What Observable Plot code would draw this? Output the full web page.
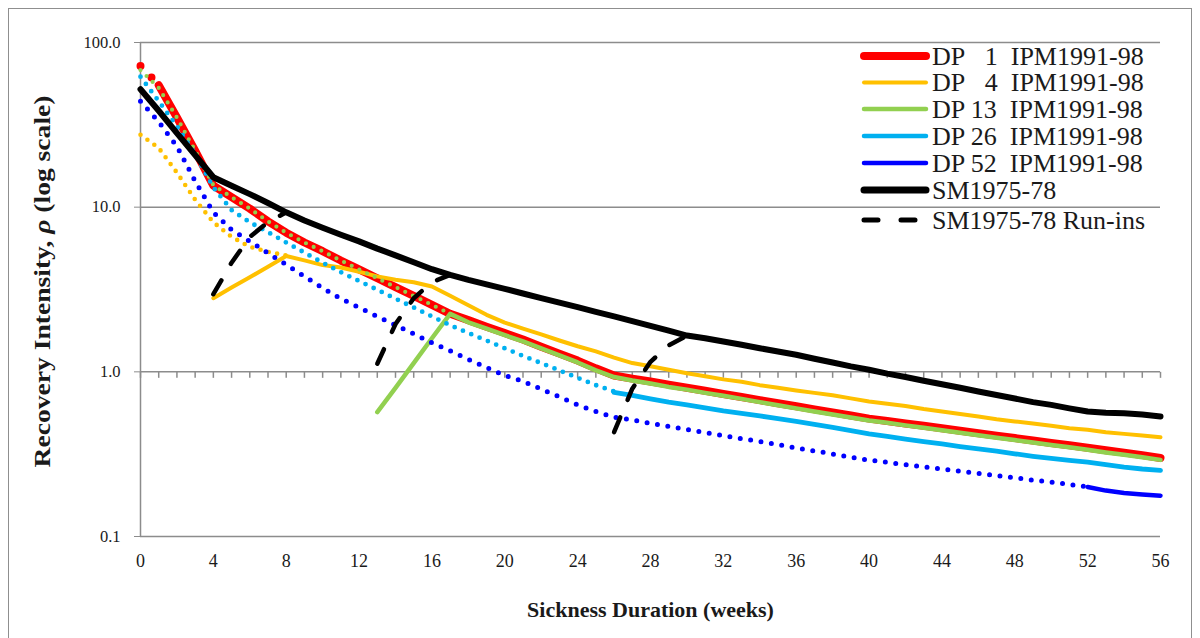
<!DOCTYPE html>
<html><head><meta charset="utf-8">
<script src="https://cdn.jsdelivr.net/npm/d3@7"></script>
<script src="https://cdn.jsdelivr.net/npm/@observablehq/plot@0.6"></script>
<style>
body{margin:0;background:#fff;}
#wrap{position:relative;width:1200px;height:638px;overflow:hidden;background:#fff;}
#frame{position:absolute;left:8px;top:8px;width:1184px;height:700px;border:1px solid #8f8f8f;box-sizing:border-box;pointer-events:none;}
#chart{position:absolute;left:0;top:0;}
#chart svg text{font-family:"Liberation Serif","Times New Roman",serif;}
</style></head><body><div id="wrap"><div id="chart"></div><div id="frame"></div></div>
<script>
// ---------- data ----------
const xTicks = [0,4,8,12,16,20,24,28,32,36,40,44,48,52,56];
const yTicks = [0.1,1,10,100];
const minorWeeks = d3.range(0,57);
const xTitle = "Sickness Duration (weeks)";
const yTitle = "Recovery Intensity, ρ (log scale)";

const legendLabels = ["DP\u00a0\u00a0\u00a01\u00a0\u00a0IPM1991-98","DP\u00a0\u00a0\u00a04\u00a0\u00a0IPM1991-98","DP 13\u00a0\u00a0IPM1991-98","DP 26\u00a0\u00a0IPM1991-98","DP 52\u00a0\u00a0IPM1991-98","SM1975-78","SM1975-78 Run-ins"];
const legendColors = ["#FF0000","#FFC000","#92D050","#00B0F0","#0000FF","#000000","#000000"];

// DP 1
const dp1DotWeeks = [0,1];
const dp1DotVals = [72,55];
const dp1Weeks = d3.range(1,57);
const dp1Vals = [55,35,22,13.5,11.5,9.8,8.2,7.0,6.1,5.4,4.74,4.19,3.70,3.27,2.89,2.55,2.25,2.06,1.88,1.72,1.57,1.42,1.29,1.17,1.05,0.95,0.91,0.873,0.836,0.80,0.767,0.734,0.703,0.673,0.645,0.618,0.592,0.567,0.543,0.52,0.503,0.486,0.47,0.454,0.439,0.424,0.41,0.396,0.383,0.37,0.358,0.346,0.334,0.323,0.312,0.30];

// DP 4
const dp4DotWeeks = d3.range(0,9);
const dp4DotVals = [27.5,22.9,16.2,11.1,8.1,6.6,5.75,5.35,5.1];
const dp4Weeks = d3.range(4,57);
const dp4Vals = [2.8,3.25,3.75,4.35,5.05,4.75,4.45,4.3,4.05,3.8,3.62,3.5,3.3,2.9,2.54,2.22,1.99,1.83,1.69,1.55,1.43,1.33,1.22,1.13,1.08,1.03,0.98,0.94,0.9,0.87,0.83,0.80,0.77,0.745,0.72,0.69,0.66,0.64,0.62,0.595,0.575,0.555,0.535,0.515,0.50,0.485,0.47,0.455,0.445,0.43,0.42,0.41,0.40];

// DP 13
const dp13DotWeeks = d3.range(0,18);
const dp13DotVals = [68,53,35,22,13.6,11.5,9.8,8.2,7.0,6.1,5.4,4.74,4.19,3.70,3.27,2.89,2.55,2.25];
const dp13Weeks = d3.range(13,57);
const dp13Vals = [0.57,0.80,1.13,1.60,2.25,2.0,1.83,1.67,1.53,1.39,1.26,1.14,1.02,0.93,0.885,0.85,0.81,0.78,0.745,0.715,0.685,0.655,0.627,0.60,0.575,0.55,0.528,0.506,0.49,0.473,0.457,0.442,0.427,0.412,0.398,0.385,0.372,0.36,0.348,0.336,0.324,0.314,0.303,0.292];

// DP 26
const dp26DotWeeks = d3.range(0,27);
const dp26DotVals = [62,44,31,21,13.2,9.6,8.1,7.05,6.1,5.3,4.6,4.03,3.56,3.15,2.78,2.46,2.17,1.92,1.72,1.55,1.39,1.25,1.13,1.02,0.92,0.83,0.76];
const dp26Weeks = d3.range(26,57);
const dp26Vals = [0.75,0.72,0.685,0.655,0.63,0.605,0.58,0.56,0.54,0.52,0.50,0.48,0.46,0.44,0.42,0.405,0.39,0.377,0.365,0.352,0.34,0.33,0.318,0.307,0.298,0.29,0.283,0.273,0.264,0.257,0.252];

// DP 52
const dp52DotWeeks = d3.range(0,53);
const dp52DotVals = [44,33,23.4,14.4,9.3,7.3,6.2,5.26,4.48,3.8,3.23,2.78,2.46,2.17,1.92,1.70,1.50,1.34,1.19,1.06,0.95,0.877,0.785,0.705,0.63,0.575,0.53,0.51,0.487,0.467,0.447,0.428,0.41,0.393,0.377,0.361,0.345,0.331,0.317,0.303,0.291,0.282,0.273,0.265,0.257,0.249,0.242,0.234,0.227,0.220,0.214,0.207,0.20];
const dp52Weeks = d3.range(52,57);
const dp52Vals = [0.2,0.19,0.184,0.18,0.177];

// SM1975-78
const smWeeks = d3.range(0,57);
const smVals = [52,38.5,28.2,20.7,15.2,13.5,12.0,10.6,9.3,8.3,7.5,6.8,6.2,5.6,5.1,4.63,4.2,3.88,3.62,3.4,3.19,2.99,2.8,2.63,2.47,2.31,2.17,2.03,1.90,1.78,1.66,1.6,1.53,1.46,1.39,1.33,1.27,1.2,1.14,1.08,1.03,0.975,0.93,0.883,0.84,0.80,0.76,0.723,0.689,0.655,0.63,0.60,0.574,0.565,0.56,0.55,0.536];

// SM1975-78 run-ins
const ri4Weeks = d3.range(4,9);
const ri4Vals = [2.96,4.6,6.6,8.1,9.3];
const ri13Weeks = d3.range(13,18);
const ri13Vals = [1.12,1.95,2.8,3.5,3.88];
const ri26Weeks = d3.range(26,31);
const ri26Vals = [0.43,0.79,1.15,1.45,1.66];

// ---------- build ----------
const seg = (ws, vs) => ws.map((w,i) => ({week: w, value: vs[i]}));
const serif = "'Liberation Serif','Times New Roman',serif";
const grid = "#8c8c8c";

function ln(data, stroke, width, dash) {
  return Plot.line(data, {x: "week", y: "value", stroke, strokeWidth: width,
    strokeDasharray: dash, strokeLinecap: "round", strokeLinejoin: "round"});
}
const tickDown = {draw(ctx) { ctx.moveTo(0, 0); ctx.lineTo(0, 6); }};

const chart = Plot.plot({
  width: 1200, height: 638,
  marginLeft: 140, marginRight: 40, marginTop: 42, marginBottom: 102,
  style: {fontFamily: serif, background: "transparent", color: "#1a1a1a"},
  x: {domain: [0,56], label: null},
  y: {type: "log", domain: [0.1,100], label: null},
  marks: [
    Plot.ruleY(yTicks, {stroke: grid, strokeWidth: 1.5}),
    Plot.ruleX([0], {stroke: grid, strokeWidth: 1.5}),
    Plot.dot(minorWeeks, {x: d => d, y: () => 1, symbol: tickDown, stroke: grid, fill: "none", strokeWidth: 1.5}),
    Plot.axisY({ticks: yTicks, tickFormat: d => d.toFixed(1), tickSize: 6, tickPadding: 14, fontSize: 16.5, stroke: grid}),
    Plot.axisX({ticks: xTicks, tickSize: 0, tickPadding: 18, fontSize: 18}),
    // DP1
    ln(seg(dp1DotWeeks, dp1DotVals), "#FF0000", 8, "0,16"),
    ln(seg(dp1Weeks, dp1Vals), "#FF0000", 8),
    // DP4
    ln(seg(dp4DotWeeks, dp4DotVals), "#FFC000", 4.6, "0,8.5"),
    ln(seg(dp4Weeks, dp4Vals), "#FFC000", 4),
    // DP13
    ln(seg(dp13DotWeeks, dp13DotVals), "#92D050", 4.2, "0,8.5"),
    ln(seg(dp13Weeks, dp13Vals), "#92D050", 4.5),
    // DP26
    ln(seg(dp26DotWeeks, dp26DotVals), "#00B0F0", 4.8, "0,9"),
    ln(seg(dp26Weeks, dp26Vals), "#00B0F0", 4.8),
    // DP52
    ln(seg(dp52DotWeeks, dp52DotVals), "#0000FF", 5, "0,10.5"),
    ln(seg(dp52Weeks, dp52Vals), "#0000FF", 4.5),
    // SM
    ln(seg(smWeeks, smVals), "#000000", 6),
    // run-ins
    ln(seg(ri4Weeks, ri4Vals), "#000000", 4.5, "16,19"),
    ln(seg(ri13Weeks, ri13Vals), "#000000", 4.5, "16,19"),
    ln(seg(ri26Weeks, ri26Vals), "#000000", 4.5, "16,19"),
    // titles
    Plot.text([xTitle], {frameAnchor: "bottom", dy: 80, fontSize: 22, fontWeight: "bold", fill: "#1a1a1a", textAnchor: "middle"}),
    Plot.text([yTitle], {frameAnchor: "left", dx: -98, dy: -8, rotate: -90, fontSize: 23, fontWeight: "bold", fill: "#1a1a1a", textAnchor: "middle"})
  ]
});
document.getElementById("chart").appendChild(chart);

// italic rho in y title, stretched like the original's condensed title
d3.select(chart).selectAll("text").filter(function(){ return this.textContent === yTitle; })
  .each(function(){
    const t = d3.select(this); t.text(null);
    const parts = yTitle.split("ρ");
    t.append("tspan").text(parts[0]);
    t.append("tspan").attr("font-style","italic").text("ρ");
    t.append("tspan").text(parts[1]);
    t.attr("textLength", 372).attr("lengthAdjust", "spacingAndGlyphs");
  });

// legend
const lg = d3.select(chart).append("g").attr("font-size", 26)
  .attr("fill", "#1a1a1a").attr("text-anchor", "start");
const legendY = [56, 82.5, 109, 136, 163, 190, 220];
const legendW = [8, 4, 4.5, 4.5, 4.5, 7, 5];
legendLabels.forEach((lab, i) => {
  const y = legendY[i];
  lg.append("line").attr("x1", 864).attr("x2", 926).attr("y1", y).attr("y2", y)
    .attr("stroke", legendColors[i]).attr("stroke-width", legendW[i]).attr("stroke-linecap", "round")
    .attr("stroke-dasharray", i === 6 ? "14,23" : null);
  lg.append("text").attr("x", 932).attr("y", y).attr("dy", "0.34em").attr("text-anchor", "start").text(lab);
});
</script>
</body></html>
